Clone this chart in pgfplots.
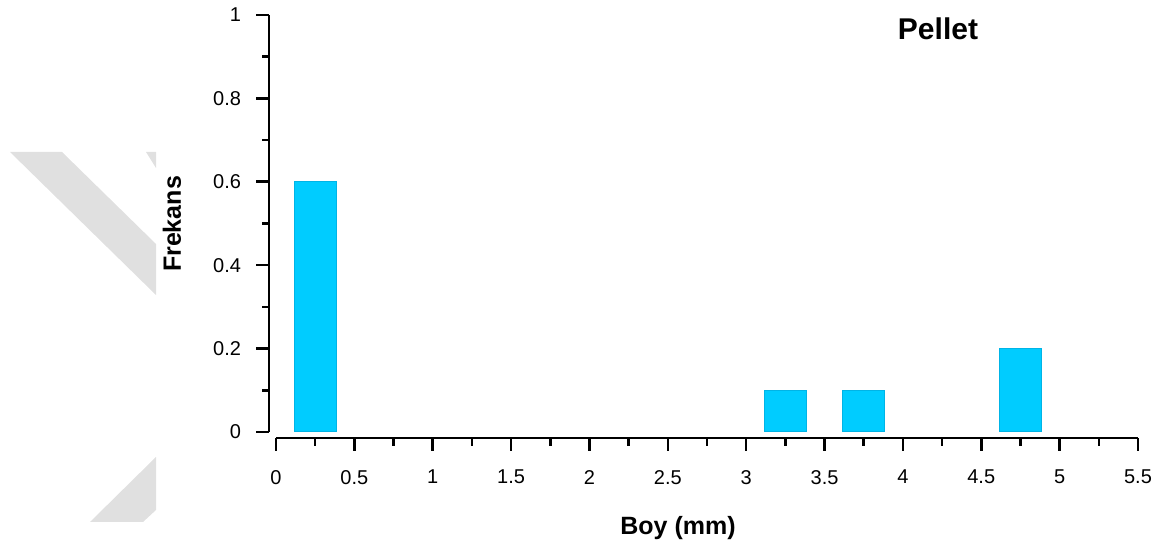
\documentclass[border=0pt]{standalone}
\usepackage{fontspec}
\setmainfont{Liberation Sans}
\usepackage{pgfplots}
\pgfplotsset{compat=1.18}
\definecolor{barcyan}{RGB}{0,204,255}
\definecolor{baredge}{RGB}{0,180,230}
\definecolor{wmgray}{RGB}{224,224,224}
\begin{document}
\begin{tikzpicture}
\useasboundingbox (0pt,0pt) rectangle (581.5pt,278pt);
% faint background watermark shapes
\fill[wmgray] (5pt,202pt) -- (31pt,202pt) -- (78pt,156pt) -- (78pt,130.5pt) -- cycle;
\fill[wmgray] (73pt,202pt) -- (78pt,202pt) -- (78pt,194pt) -- cycle;
\fill[wmgray] (45pt,17pt) -- (78pt,49.5pt) -- (78pt,23pt) -- (71.5pt,17pt) -- cycle;
% bars + y axis
\begin{axis}[
  at={(134.5pt,62pt)}, anchor=south west,
  scale only axis, width=434.5pt, height=208.5pt,
  xmin=-0.045, xmax=5.5, ymin=0, ymax=1,
  axis x line=none, axis y line*=left,
  axis line style={line width=1.4pt, -},
  ytick={0,0.2,0.4,0.6,0.8,1},
  yticklabels={0,0.2,0.4,0.6,0.8,1},
  minor y tick num=1,
  tick align=outside,
  major tick length=6.5pt, minor tick length=3.5pt,
  every tick/.style={line width=1.3pt, black},
  yticklabel style={font=\fontsize{10}{12}\selectfont, xshift=-4pt},
  clip=false,
]
\addplot[ybar, bar width=0.27, bar shift=0pt, fill=barcyan, draw=baredge, line width=0.5pt]
  coordinates {(0.25,0.6) (3.25,0.1) (3.75,0.1) (4.75,0.2)};
\end{axis}
% x axis
\begin{axis}[
  at={(138pt,59pt)}, anchor=south west,
  scale only axis, width=431pt, height=20pt,
  xmin=0, xmax=5.5, ymin=0, ymax=1,
  axis y line=none, axis x line*=bottom,
  axis line style={line width=1.4pt, -},
  xtick={0,0.5,1,1.5,2,2.5,3,3.5,4,4.5,5,5.5},
  xticklabels={0,0.5,1,1.5,2,2.5,3,3.5,4,4.5,5,5.5},
  minor x tick num=1,
  tick align=outside,
  major tick length=6.5pt, minor tick length=4pt,
  every tick/.style={line width=1.3pt, black},
  xticklabel style={font=\fontsize{10}{12}\selectfont, yshift=-6pt},
]
\end{axis}
\node[font=\bfseries\fontsize{12.5}{14}\selectfont] at (339pt,14pt) {Boy (mm)};
\node[font=\bfseries\fontsize{12.5}{14}\selectfont, rotate=90] at (86pt,166pt) {Frekans};
\node[font=\bfseries\fontsize{15}{17}\selectfont] at (469pt,263.5pt) {Pellet};
\end{tikzpicture}
\end{document}
